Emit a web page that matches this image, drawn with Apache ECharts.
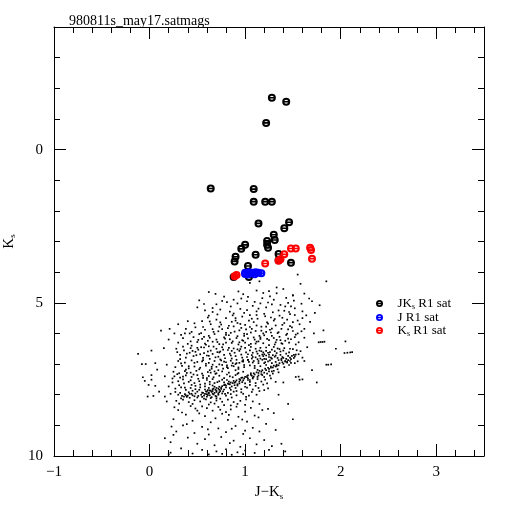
<!DOCTYPE html>
<html><head><meta charset="utf-8">
<script src="https://cdn.jsdelivr.net/npm/echarts@6/dist/echarts.min.js"></script>
<style>html,body{margin:0;padding:0;background:#fff}#c{width:512px;height:512px}</style>
</head><body><div id="c"></div>
<script>
const titleText = '980811s_may17.satmags';
const xTickLabels = [-1, 0, 1, 2, 3];
const yTickLabels = [0, 5, 10];
const seriesNames = ['JKs R1 sat', 'J R1 sat', 'Ks R1 sat'];

const satJK = [[1.28,-1.69],[1.43,-1.56],[1.22,-0.87],[0.64,1.27],[1.09,1.29],[1.09,1.70],[1.21,1.70],[1.28,1.70],[1.14,2.41],[1.46,2.37],[1.41,2.57],[1.30,2.78],[1.31,2.95],[1.23,2.98],[1.23,3.11],[1.24,3.20],[1.00,3.11],[0.96,3.24],[1.11,3.43],[0.90,3.50],[0.89,3.65],[1.35,3.41],[1.48,3.69],[1.03,3.80],[0.88,4.16],[1.04,4.16],[1.35,3.61]];
const satJ = [[1.00,4.02],[1.04,4.00],[1.07,4.02],[1.11,4.00],[1.14,4.02],[1.17,4.04],[1.03,4.08],[1.10,4.07],[1.00,4.06]];
const satK = [[1.21,3.72],[1.41,3.42],[1.37,3.58],[1.35,3.63],[1.48,3.23],[1.53,3.23],[1.68,3.20],[1.69,3.28],[1.70,3.56],[0.91,4.09],[0.89,4.13]];

const dotsUpper = [[1.05,4.35],[1.15,4.3],[1.33,4.5],[1.55,4.08],[1.58,4.38],[1.85,4.3],[1.12,4.6],[0.98,4.72],[1.25,4.62],[1.4,4.55],[1.5,4.76],[1.62,4.7],[0.62,4.65],[0.78,4.8],[0.88,4.9],[1.02,4.95],[1.18,4.85],[1.3,4.9],[1.45,5.0],[1.7,4.95],[0.7,5.05],[0.85,5.12],[0.95,5.2],[1.08,5.1],[1.22,5.15],[1.35,5.25],[1.52,5.18],[1.6,5.28],[0.58,5.25],[0.66,5.3],[1.12,5.28],[1.28,5.05],[0.92,5.02],[1.42,5.12],[1.78,5.08],[0.5,5.15],
[0.62,5.42],[0.71,5.38],[0.8,5.5],[0.88,5.35],[0.97,5.45],[1.05,5.4],[1.13,5.52],[1.2,5.36],[1.27,5.48],[1.36,5.42],[1.44,5.55],[1.52,5.4],[1.6,5.5],[1.68,5.62],[0.55,5.6],[0.64,5.7],[0.74,5.64],[0.83,5.75],[0.92,5.66],[1.0,5.72],[1.09,5.63],[1.17,5.78],[1.24,5.68],[1.32,5.74],[1.41,5.66],[1.49,5.8],[1.57,5.7],[0.58,5.88],[0.67,5.95],[0.76,5.86],[0.85,5.98],[0.94,5.9],[1.02,6.02],[1.11,5.92],[1.19,6.0],[1.26,5.88],[1.35,5.96],[1.43,6.05],[1.5,5.92],[0.48,5.8],[0.7,5.55],[0.9,5.58],[1.07,5.85],[1.3,5.58],[0.8,6.05],[0.62,6.08],[1.15,6.08],[1.38,5.85],[0.96,5.82],[1.22,5.95],[0.52,6.02],[0.73,5.78],[0.86,5.62],[1.04,5.58],[1.46,5.3],[0.99,6.08],[1.28,6.08],[0.44,5.95],[1.55,6.0],[1.62,5.85],[0.3,5.7],[0.38,5.85],[0.42,6.0],[0.33,6.05],[0.4,5.6]];

const dotsMid = [[0.35,6.15],[0.46,6.12],[0.55,6.18],[0.63,6.14],[0.7,6.2],[0.78,6.13],[0.84,6.19],[0.91,6.15],[0.97,6.22],[1.03,6.16],[1.1,6.2],[1.16,6.13],[1.23,6.18],[1.3,6.15],[1.37,6.22],[1.45,6.17],[1.52,6.12],
[0.3,6.3],[0.4,6.34],[0.5,6.28],[0.58,6.33],[0.66,6.27],[0.73,6.35],[0.8,6.3],[0.87,6.26],[0.93,6.36],[1.0,6.3],[1.06,6.34],[1.12,6.27],[1.19,6.32],[1.25,6.38],[1.32,6.29],[1.39,6.34],[1.46,6.3],[1.53,6.36],[0.44,6.4],[0.62,6.42],[0.96,6.43],
[0.28,6.5],[0.36,6.55],[0.43,6.48],[0.51,6.53],[0.57,6.46],[0.64,6.56],[0.7,6.5],[0.76,6.45],[0.82,6.54],[0.88,6.49],[0.94,6.57],[1.0,6.47],[1.05,6.55],[1.11,6.5],[1.17,6.58],[1.22,6.46],[1.28,6.53],[1.34,6.49],[1.4,6.56],[1.47,6.5],[1.54,6.55],[0.48,6.6],[0.73,6.62],[1.08,6.63],
[0.32,6.7],[0.39,6.66],[0.46,6.74],[0.53,6.68],[0.6,6.72],[0.66,6.67],[0.72,6.76],[0.78,6.7],[0.84,6.66],[0.9,6.74],[0.96,6.69],[1.02,6.77],[1.07,6.71],[1.13,6.66],[1.19,6.74],[1.25,6.69],[1.31,6.76],[1.37,6.7],[1.43,6.66],[1.49,6.73],[0.56,6.8],[0.86,6.82],[1.16,6.82],[1.4,6.8],
[0.3,6.9],[0.37,6.95],[0.44,6.88],[0.5,6.93],[0.56,6.87],[0.62,6.96],[0.68,6.9],[0.74,6.85],[0.8,6.94],[0.85,6.89],[0.91,6.97],[0.97,6.91],[1.03,6.86],[1.08,6.95],[1.14,6.9],[1.2,6.97],[1.26,6.88],[1.32,6.93],[1.38,6.87],[1.44,6.95],[1.22,6.84],[1.28,6.82],[1.34,6.8],[1.18,6.86],
[0.27,7.1],[0.34,7.06],[0.41,7.14],[0.47,7.08],[0.53,7.12],[0.59,7.05],[0.65,7.15],[0.7,7.09],[0.76,7.03],[0.82,7.13],[0.88,7.07],[0.93,7.16],[0.99,7.1],[1.05,7.04],[1.1,7.13],[1.16,7.07],[1.22,7.03],[1.27,7.12],[1.33,7.06],[0.38,7.18],[0.63,7.2],[0.9,7.2],[1.13,7.19]];

const dotsBand = [[0.56,7.94],[0.6,7.9],[0.63,7.86],[0.67,7.8],[0.7,7.78],[0.73,7.74],[0.76,7.72],[0.79,7.67],[0.82,7.64],[0.85,7.6],[0.88,7.55],[0.91,7.53],[0.94,7.49],[0.97,7.44],[1.0,7.42],[1.03,7.37],[1.06,7.35],[1.09,7.3],[1.12,7.27],[1.15,7.22],[1.18,7.2],[1.21,7.15],[1.24,7.12],[1.27,7.08],[1.3,7.05],[1.33,7.02],[1.36,6.97],[1.39,6.94],[1.42,6.9],[1.45,6.87],[1.48,6.84],[1.51,6.8],
[0.58,7.97],[0.62,7.93],[0.66,7.88],[0.69,7.84],[0.72,7.8],[0.75,7.77],[0.8,7.7],[0.84,7.66],[0.87,7.62],[0.9,7.58],[0.95,7.52],[0.99,7.47],[1.02,7.43],[1.07,7.38],[1.1,7.34],[1.14,7.29],[1.17,7.25],[1.22,7.2],[1.25,7.16],[1.29,7.11],[1.32,7.08],[1.35,7.04],[1.4,6.99],[1.44,6.93],[1.47,6.9],
[0.64,7.28],[0.68,7.24],[0.72,7.2],[0.77,7.15],[0.81,7.1],[0.86,7.05],[0.9,7.0],[0.94,6.96],[0.98,6.92],[1.03,6.86],[1.07,6.82],[1.11,6.78],[1.15,6.73],[1.2,6.68],[1.24,6.63]];

const dotsDense = [[0.25,7.25],[0.31,7.3],[0.37,7.23],[0.43,7.28],[0.49,7.22],[0.55,7.31],[0.61,7.26],[0.7,7.3],[0.76,7.24],[0.83,7.28],[0.92,7.32],[0.98,7.25],[1.06,7.3],[1.2,7.28],[1.25,7.24],[1.3,7.22],
[0.26,7.4],[0.32,7.44],[0.38,7.37],[0.44,7.42],[0.5,7.36],[0.56,7.45],[0.62,7.39],[0.67,7.43],[0.73,7.38],[0.78,7.46],[0.84,7.4],[0.9,7.36],[0.96,7.45],[1.02,7.39],[1.08,7.44],[1.14,7.37],[1.2,7.42],[1.26,7.38],[0.35,7.5],[0.6,7.52],[0.81,7.52],[1.05,7.52],
[0.24,7.6],[0.3,7.56],[0.36,7.63],[0.41,7.58],[0.47,7.62],[0.52,7.56],[0.58,7.64],[0.63,7.58],[0.68,7.62],[0.73,7.56],[0.78,7.6],[0.83,7.65],[0.89,7.61],[0.94,7.57],[1.0,7.63],[1.05,7.58],[1.11,7.62],[1.17,7.57],[1.23,7.63],[0.44,7.68],[0.66,7.7],[0.92,7.7],
[0.27,7.8],[0.33,7.76],[0.38,7.84],[0.43,7.78],[0.48,7.82],[0.53,7.76],[0.58,7.83],[0.62,7.78],[0.66,7.82],[0.7,7.87],[0.75,7.81],[0.8,7.76],[0.85,7.84],[0.9,7.78],[0.96,7.82],[1.02,7.77],[1.08,7.83],[1.14,7.78],[1.2,7.85],[0.5,7.9],[0.73,7.92],[0.88,7.9],
[0.3,8.0],[0.34,8.04],[0.37,7.98],[0.4,8.03],[0.42,7.97],[0.45,8.02],[0.48,7.96],[0.51,8.04],[0.54,8.0],[0.57,8.03],[0.6,7.98],[0.63,8.02],[0.66,7.97],[0.69,8.04],[0.72,8.0],[0.76,7.96],[0.8,8.03],[0.85,7.98],[0.91,8.02],[0.98,7.97],[1.04,8.03],[1.12,8.0],[0.36,8.06],[0.39,8.07],[0.6,8.06],[0.65,8.08],[0.7,8.06],[0.62,7.95],[0.68,7.94],
[0.28,8.2],[0.35,8.16],[0.41,8.24],[0.47,8.18],[0.53,8.22],[0.59,8.15],[0.64,8.25],[0.7,8.19],[0.76,8.23],[0.82,8.16],[0.88,8.24],[0.95,8.2],[1.01,8.15],[1.08,8.22],[0.45,8.3],[0.62,8.32],[0.78,8.34],[0.92,8.3],[0.55,8.38],[0.72,8.4]];

const dotsExtra = [[0.52,4.92],[0.61,5.48],[0.69,4.71],[0.74,5.22],[0.81,4.98],[0.87,5.41],[0.93,4.63],[0.99,5.33],[1.03,4.81],[1.07,5.52],[1.1,4.97],[1.14,5.19],[1.19,4.68],[1.21,5.44],[1.26,4.79],[1.29,5.31],[1.33,4.69],[1.37,5.07],[1.39,5.49],[1.43,4.84],[1.47,5.37],[1.51,4.93],[1.55,5.58],[1.59,5.03],[1.64,5.41],[1.67,4.86],[1.73,5.33],[0.57,5.04],[0.76,4.94],[0.96,4.86],[1.16,5.02],[1.31,5.53],[1.48,5.12],[0.66,5.17],[0.84,5.29],[1.02,5.24],[1.24,4.99],[1.41,5.26],[0.9,5.5],[1.12,5.4],
[0.47,5.67],[0.51,6.21],[0.56,5.79],[0.59,6.37],[0.63,5.61],[0.68,6.02],[0.71,6.28],[0.75,5.71],[0.79,6.17],[0.82,5.83],[0.86,6.31],[0.89,5.94],[0.92,6.09],[0.95,5.69],[0.98,6.24],[1.01,5.87],[1.04,6.38],[1.06,5.97],[1.09,6.13],[1.12,5.74],[1.14,6.26],[1.17,5.91],[1.2,6.06],[1.23,5.64],[1.25,6.22],[1.28,5.84],[1.31,6.36],[1.34,5.99],[1.36,6.11],[1.39,5.72],[1.42,6.24],[1.45,5.87],[1.48,6.19],[1.5,5.63],[1.53,6.04],[1.56,6.29],[1.59,5.93],[1.62,6.14],[0.54,5.99],[0.66,5.86],[0.77,6.36],[0.88,5.77],[0.99,6.01],[1.11,6.33],[1.22,5.78],[1.33,6.21],[1.44,6.01],[0.43,6.26],[0.37,6.0],[0.61,6.24],[0.72,5.93],[0.83,6.06],[0.94,6.29],[1.05,5.79],[1.16,6.18],[1.27,5.97],[1.38,6.32],[1.47,5.76],[0.57,6.11],[0.8,5.98],
[0.29,6.61],[0.33,6.98],[0.35,6.43],[0.38,6.79],[0.41,7.07],[0.45,6.57],[0.47,6.96],[0.49,6.71],[0.52,7.17],[0.54,6.45],[0.57,6.64],[0.59,6.99],[0.61,6.59],[0.63,6.83],[0.65,7.09],[0.67,6.43],[0.69,6.78],[0.71,6.61],[0.73,7.01],[0.75,6.88],[0.77,6.53],[0.79,6.81],[0.81,7.04],[0.83,6.47],[0.85,6.72],[0.87,6.97],[0.89,6.63],[0.91,6.86],[0.93,7.11],[0.95,6.51],[0.97,6.79],[0.99,7.03],[1.01,6.62],[1.04,6.93],[1.06,6.44],[1.08,6.77],[1.1,7.06],[1.12,6.59],[1.14,6.97],[1.16,6.47],[1.18,6.69],[1.2,6.83],[1.22,6.57],[1.24,6.91],[1.26,6.61],[1.28,6.97],[1.3,6.44],[1.32,6.72],[1.35,6.87],[1.37,6.59],[1.39,6.77],[1.41,6.48],[1.43,6.83],[1.46,6.62],[1.48,6.96],[1.5,6.51],[1.52,6.75],[1.55,6.91],[1.58,6.58],[1.6,6.79],[0.42,6.63],[0.55,6.91],[0.66,7.02],[0.78,6.92],[0.92,6.52],[1.03,6.68],[1.15,6.56],[1.27,6.79],[1.36,6.51],[1.45,6.73],[0.32,6.84],[0.5,6.47],[0.62,6.73],[0.74,6.59],[0.86,6.57],[0.98,6.87],[1.09,6.9],[1.21,6.94],[1.33,6.64],[1.42,6.92],[1.25,6.77],[1.19,6.62],[1.29,6.71],[1.13,6.84],[1.38,6.83],[1.31,6.58],[1.22,6.72],[1.47,6.79],
[0.24,7.47],[0.27,7.91],[0.29,7.33],[0.31,7.69],[0.33,8.12],[0.35,7.41],[0.37,7.77],[0.39,7.29],[0.41,7.92],[0.43,7.53],[0.45,7.87],[0.46,7.34],[0.48,7.71],[0.5,8.09],[0.51,7.48],[0.53,7.67],[0.55,7.93],[0.56,7.38],[0.58,7.73],[0.6,7.46],[0.61,7.85],[0.63,7.66],[0.64,8.11],[0.66,7.49],[0.68,7.74],[0.69,7.32],[0.71,7.59],[0.73,7.84],[0.74,8.13],[0.76,7.51],[0.78,7.69],[0.79,7.97],[0.81,7.34],[0.83,7.57],[0.84,7.78],[0.86,8.09],[0.87,7.43],[0.89,7.69],[0.91,7.88],[0.93,7.29],[0.94,7.63],[0.96,7.92],[0.98,7.53],[1.0,7.74],[1.01,8.07],[1.03,7.47],[1.05,7.68],[1.07,7.91],[1.09,7.41],[1.11,7.71],[1.13,7.49],[1.15,7.88],[1.17,7.33],[1.19,7.67],[1.21,7.51],[1.24,7.79],[1.27,7.47],[1.29,7.31],[1.32,7.58],[1.35,7.27],[0.44,7.97],[0.52,7.84],[0.57,8.13],[0.65,7.91],[0.7,8.12],[0.77,7.89],[0.82,7.94],[0.59,7.89],[0.67,7.99],[0.72,7.96],[0.64,7.87],[0.7,7.91],[0.74,7.88],[0.78,7.83],[0.61,8.01],[0.55,8.07],[0.47,8.05],[0.42,8.1],[0.38,8.02],[0.32,7.94],[0.86,7.73],[0.92,7.66],[0.97,7.59],[1.03,7.52],[1.08,7.47],[1.13,7.42],[1.18,7.36],[1.23,7.31],[1.28,7.24],[1.34,7.17],[1.41,7.1],[1.46,7.03],[1.52,6.97],
[0.26,8.41],[0.34,8.58],[0.43,8.37],[0.52,8.61],[0.6,8.44],[0.69,8.77],[0.74,8.49],[0.83,8.66],[0.91,8.39],[0.97,8.81],[1.06,8.43],[1.14,8.74],[1.24,8.46],[0.39,8.96],[0.61,9.13],[0.86,9.11],[1.0,9.17],[0.31,8.29],[0.68,8.29],[0.85,8.35],[1.0,8.33],[1.15,8.3],[0.5,8.52],[0.8,8.57]];

const dotsLower = [[0.3,8.5],[0.48,8.45],[0.66,8.52],[0.85,8.48],[1.0,8.55],[1.18,8.5],[0.38,8.65],[0.58,8.7],[0.76,8.62],[0.93,8.72],[1.1,8.68],[1.3,8.6],[0.25,8.8],[0.45,8.85],[0.64,8.9],[0.82,8.82],[1.02,8.88],[1.22,8.95],[0.35,9.0],[0.55,9.05],[0.72,9.1],[0.9,9.02],[1.08,9.08],[0.28,9.2],[0.47,9.25],[0.62,9.3],[0.8,9.22],[0.98,9.28],[1.15,9.2],[1.32,9.15],[0.4,9.4],[0.58,9.45],[0.75,9.38],[0.88,9.5],[1.05,9.42],[1.2,9.48],[0.22,9.55],[0.5,9.6],[0.68,9.65],[0.84,9.58],[0.95,9.7],[1.12,9.62],[1.28,9.68],[0.33,9.75],[0.55,9.8],[0.7,9.85],[0.8,9.78],[0.92,9.88],[1.0,9.82],[1.1,9.9],[1.25,9.8],[0.45,9.92],[0.62,9.95],[0.76,9.93],[0.86,9.96],[0.98,9.94],[0.2,9.95],[1.38,9.6],[1.42,9.85]];

const dotsLeft = [[-0.12,6.67],[-0.08,7.0],[-0.04,7.0],[0.02,6.56],[0.06,6.97],[-0.07,7.43],[-0.05,7.55],[-0.01,7.68],[0.02,7.51],[0.06,7.71],[-0.02,8.06],[0.04,8.04],[0.02,7.36],[0.12,5.91],[0.21,5.85],[0.15,6.48],[0.18,7.02],[0.16,7.4],[0.2,7.73],[0.22,7.97],[0.16,8.06],[0.18,8.22],[0.23,9.04],[0.25,9.31],[0.16,9.42],[0.22,9.89],[0.1,7.9],[0.08,7.18],[0.2,6.2],[0.26,6.0]];

const dotsRight = [[1.77,6.29],[1.79,6.28],[1.81,6.28],[1.83,6.27],[2.04,6.64],[2.07,6.63],[2.1,6.62],[2.12,6.61],[1.85,7.02],[1.87,7.02],[1.9,7.01],[1.51,6.7],[1.53,6.69],[1.56,6.68],[1.53,7.42],[1.56,7.41],[1.57,7.51],[1.6,7.5],[1.82,5.9],[2.05,6.26],[1.5,4.76],[1.72,6.0],[1.65,6.45],[1.95,6.5],[1.7,7.2],[1.62,6.9],[1.75,7.6],[1.4,7.6],[1.35,8.0],[1.45,8.3],[1.5,8.8]];

const allDots = [].concat(dotsUpper, dotsMid, dotsBand, dotsDense, dotsExtra, dotsLower, dotsLeft, dotsRight);

const FONT = 'Liberation Serif';
const ringPath = 'path://M0,-4A4,4 0 1,1 0,4A4,4 0 1,1 0,-4ZM0,-2.0A2.0,2.0 0 1,0 0,2.0A2.0,2.0 0 1,0 0,-2.0ZM-3.6,-0.8L3.6,-0.8L3.6,0.8L-3.6,0.8Z';
const subRich = {
  n: {fontFamily: FONT, fontSize: 15, color: '#000'},
  s: {fontFamily: FONT, fontSize: 9, color: '#000', padding: [8, 0, 0, 0]}
};
const legRich = {
  n: {fontFamily: FONT, fontSize: 13, color: '#000'},
  s: {fontFamily: FONT, fontSize: 8, color: '#000', padding: [7, 0, 0, 0]}
};
const black = '#000';
function baseX(pos, major, showLine) {
  return {
    type: 'value', position: pos, gridIndex: 0, min: -1, max: 3.5,
    interval: major ? 1 : 0.2,
    axisLine: {show: showLine, onZero: false, lineStyle: {color: black, width: 1}},
    axisTick: major ? {inside: true, length: 12, customValues: xTickLabels, lineStyle: {color: black}}
                    : {inside: true, length: 6, lineStyle: {color: black}},
    axisLabel: {show: false},
    splitLine: {show: false}
  };
}
function baseY(pos, major, showLine) {
  return {
    type: 'value', position: pos, gridIndex: 0, min: -4, max: 10, inverse: true,
    interval: 1,
    axisLine: {show: showLine, onZero: false, lineStyle: {color: black, width: 1}},
    axisTick: major ? {inside: true, length: 12, customValues: yTickLabels, lineStyle: {color: black}}
                    : {inside: true, length: 6, lineStyle: {color: black}},
    axisLabel: {show: false},
    splitLine: {show: false}
  };
}
const x0 = baseX('bottom', true, true);
x0.axisLabel = {show: true, customValues: xTickLabels, margin: 9, fontFamily: FONT, fontSize: 15, color: black,
  formatter: v => v < 0 ? '\u2212' + Math.abs(v) : String(v)};
x0.name = '{n|J\u2212K}{s|s}';
x0.nameLocation = 'middle';
x0.nameGap = 27;
x0.nameTextStyle = {rich: subRich};
const y0 = baseY('left', true, true);
y0.axisLabel = {show: true, customValues: yTickLabels, margin: 11, fontFamily: FONT, fontSize: 15, color: black};
y0.name = '{n|K}{s|s}';
y0.nameLocation = 'middle';
y0.nameGap = 35;
y0.nameRotate = 90;
y0.nameTextStyle = {rich: subRich};

const option = {
  animation: false,
  backgroundColor: '#fff',
  title: {text: titleText, left: 64, top: 9, textStyle: {fontFamily: FONT, fontSize: 14, fontWeight: 'normal', color: black}},
  grid: {left: 54, top: 27, width: 430, height: 429, containLabel: false, outerBoundsMode: 'none'},
  xAxis: [x0, baseX('bottom', false, false), baseX('top', true, true), baseX('top', false, false)],
  yAxis: [y0, baseY('left', false, false), baseY('right', true, true), baseY('right', false, false)],
  legend: {
    orient: 'vertical', left: 371, top: 292, itemWidth: 26, itemHeight: 7, itemGap: 0,
    data: seriesNames,
    formatter: function (name) {
      if (name === 'JKs R1 sat') return '{n|JK}{s|s}{n| R1 sat}';
      if (name === 'Ks R1 sat') return '{n|K}{s|s}{n| R1 sat}';
      return '{n|' + name + '}';
    },
    textStyle: {rich: legRich}
  },
  series: [
    {type: 'scatter', name: 'dots', data: allDots, symbol: 'rect', symbolSize: 1.7, itemStyle: {color: black, opacity: 1}, silent: true, z: 1},
    {type: 'scatter', name: seriesNames[0], data: satJK, symbol: ringPath, symbolSize: 8, itemStyle: {color: black, opacity: 1}, z: 2},
    {type: 'scatter', name: seriesNames[1], data: satJ, symbol: ringPath, symbolSize: 8, itemStyle: {color: '#0000ff', opacity: 1}, z: 3},
    {type: 'scatter', name: seriesNames[2], data: satK, symbol: ringPath, symbolSize: 8, itemStyle: {color: '#ff0000', opacity: 1}, z: 4}
  ]
};
const chart = echarts.init(document.getElementById('c'), null, {renderer: 'canvas'});
chart.setOption(option);
</script></body></html>
